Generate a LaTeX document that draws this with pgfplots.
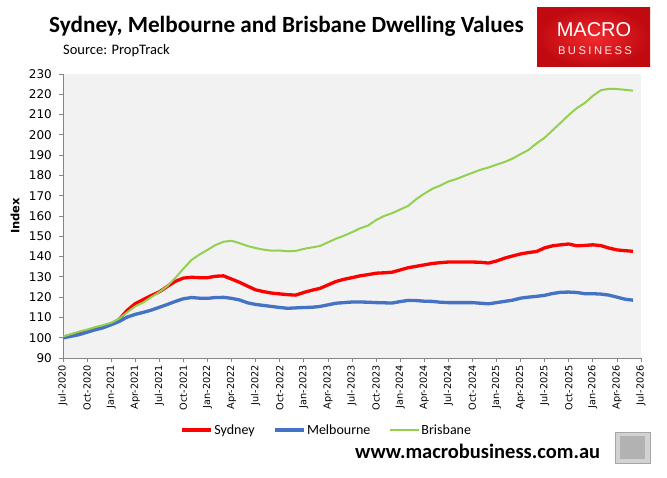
\documentclass[border=0pt]{standalone}
\usepackage{fontspec}
\usepackage{pgfplots}
\usepackage{pgfplotstable}
\pgfplotsset{compat=1.18}
\setmainfont{Carlito}
\newfontfamily\dejavu{DejaVu Sans}
\newfontfamily\libsans{Liberation Sans}

\definecolor{sydred}{HTML}{FF0000}
\definecolor{melblue}{HTML}{4472C4}
\definecolor{brigreen}{HTML}{92D050}
\definecolor{plotbg}{HTML}{F2F2F2}
\definecolor{axisgray}{HTML}{868686}
\definecolor{logored}{HTML}{F02A2E}
\definecolor{logodark}{HTML}{C00A10}

% Monthly dwelling value index, Jul-2020 = month 0
\pgfplotstableread{
m   syd    mel    bri
0   100.3  99.9   100.6
1   101.2  100.7  101.8
2   102.3  101.5  103.0
3   103.3  102.7  104.0
4   104.3  103.9  105.2
5   105.4  104.9  106.2
6   106.6  106.4  107.4
7   109.0  108.0  109.4
8   113.5  110.2  112.5
9   116.8  111.5  115.5
10  118.8  112.5  117.4
11  120.8  113.6  120.0
12  122.6  115.0  122.5
13  125.3  116.4  125.5
14  127.8  117.9  129.5
15  129.4  119.2  134.0
16  129.8  119.8  138.3
17  129.6  119.5  141.0
18  129.6  119.4  143.3
19  130.3  119.8  145.7
20  130.5  119.9  147.3
21  128.9  119.4  147.8
22  127.3  118.6  146.6
23  125.4  117.2  145.2
24  123.6  116.4  144.2
25  122.7  115.9  143.4
26  122.0  115.4  142.9
27  121.6  114.9  143.0
28  121.2  114.5  142.6
29  121.0  114.7  142.8
30  122.3  114.9  143.8
31  123.4  115.0  144.5
32  124.3  115.4  145.2
33  126.0  116.2  147.0
34  127.7  117.0  148.8
35  128.8  117.3  150.3
36  129.6  117.6  152.0
37  130.5  117.6  153.9
38  131.1  117.5  155.3
39  131.8  117.3  158.0
40  132.0  117.2  160.0
41  132.3  117.1  161.4
42  133.4  117.8  163.2
43  134.5  118.4  165.0
44  135.2  118.3  168.3
45  135.9  118.0  171.0
46  136.6  117.9  173.4
47  137.0  117.5  175.0
48  137.3  117.3  177.0
49  137.3  117.3  178.2
50  137.3  117.3  179.8
51  137.3  117.3  181.3
52  137.2  117.0  182.8
53  136.8  116.7  183.9
54  137.8  117.3  185.3
55  139.2  117.9  186.6
56  140.3  118.5  188.3
57  141.3  119.5  190.5
58  142.0  120.0  192.6
59  142.5  120.4  195.8
60  144.3  120.9  198.6
61  145.3  121.8  202.3
62  145.8  122.4  206.0
63  146.2  122.5  209.8
64  145.3  122.3  213.2
65  145.5  121.7  215.7
66  145.8  121.7  219.2
67  145.4  121.5  222.0
68  144.2  121.0  222.7
69  143.3  120.0  222.6
70  142.9  119.0  222.2
71  142.6  118.5  221.8
}\dwelling

\begin{document}
\begin{tikzpicture}[x=1pt,y=1pt]
  \path[use as bounding box] (0,0) rectangle (667,477);

  % heading
  \node[anchor=base west, inner sep=0pt] at (49,444)
    {\fontsize{23.2}{26}\selectfont\bfseries Sydney, Melbourne and Brisbane Dwelling Values};
  \node[anchor=base west, inner sep=0pt] at (63,422)
    {\fontsize{14.5}{16}\selectfont Source: PropTrack};

  % MacroBusiness badge
  \shade[inner color=logored, outer color=logodark] (537,410) rectangle (650,469);
  \node[anchor=base, inner sep=0pt, text=white] at (594,440)
    {\libsans\fontsize{20}{22}\selectfont MACRO};
  \node[anchor=base, inner sep=0pt, text=white!92!red] at (595,422)
    {\libsans\addfontfeatures{LetterSpace=22}\fontsize{11.2}{12}\selectfont BUSINESS};

  % y-axis title
  \node[rotate=90, inner sep=0pt] at (15,261)
    {\dejavu\bfseries\fontsize{11.5}{12}\selectfont Index};

  \begin{axis}[
    at={(63pt,119pt)}, anchor=south west,
    scale only axis, width=578pt, height=284pt,
    xmin=0, xmax=72, ymin=90, ymax=230,
    axis background/.style={fill=plotbg},
    axis x line*=bottom, axis y line*=left,
    axis line style={axisgray, line width=0.8pt, -},
    tick style={axisgray, line width=0.8pt},
    tick align=outside, major tick length=4pt,
    xtick={0,3,...,72},
    xticklabels={Jul-2020,Oct-2020,Jan-2021,Apr-2021,Jul-2021,Oct-2021,Jan-2022,Apr-2022,Jul-2022,Oct-2022,Jan-2023,Apr-2023,Jul-2023,Oct-2023,Jan-2024,Apr-2024,Jul-2024,Oct-2024,Jan-2025,Apr-2025,Jul-2025,Oct-2025,Jan-2026,Apr-2026,Jul-2026},
    xticklabel style={rotate=90, anchor=east, font=\dejavu\fontsize{9.7}{10}\selectfont, inner sep=3pt},
    ytick distance=10,
    yticklabel style={font=\dejavu\fontsize{12}{12}\selectfont, inner sep=2pt, xshift=-5pt},
    /pgf/number format/assume math mode=true,
    legend columns=3,
    legend style={at={(0.456,-0.2535)}, anchor=center, draw=none, fill=none,
      font=\fontsize{14}{15}\selectfont,
      column sep=0pt, nodes={inner sep=1.5pt},
      /tikz/every even column/.append style={column sep=17pt}},
    legend image code/.code={\draw[#1] (0pt,0pt) -- (29pt,0pt);},
  ]
    \addplot[sydred, line width=3.3pt, line join=round] table[x=m, y=syd] {\dwelling};
    \addlegendentry{Sydney}
    \addplot[melblue, line width=3.3pt, line join=round] table[x=m, y=mel] {\dwelling};
    \addlegendentry{Melbourne}
    \addplot[brigreen, line width=2pt, line join=round] table[x=m, y=bri] {\dwelling};
    \addlegendentry{Brisbane}
  \end{axis}

  % web address and wolf badge
  \node[anchor=base west, inner sep=0pt] at (355,19)
    {\fontsize{20.5}{22}\selectfont\bfseries www.macrobusiness.com.au};
  \filldraw[draw=gray!70, line width=1pt, fill=gray!35] (615,14) rectangle (650,45);
  \fill[gray!60] (620,18) rectangle (645,41);
\end{tikzpicture}
\end{document}
